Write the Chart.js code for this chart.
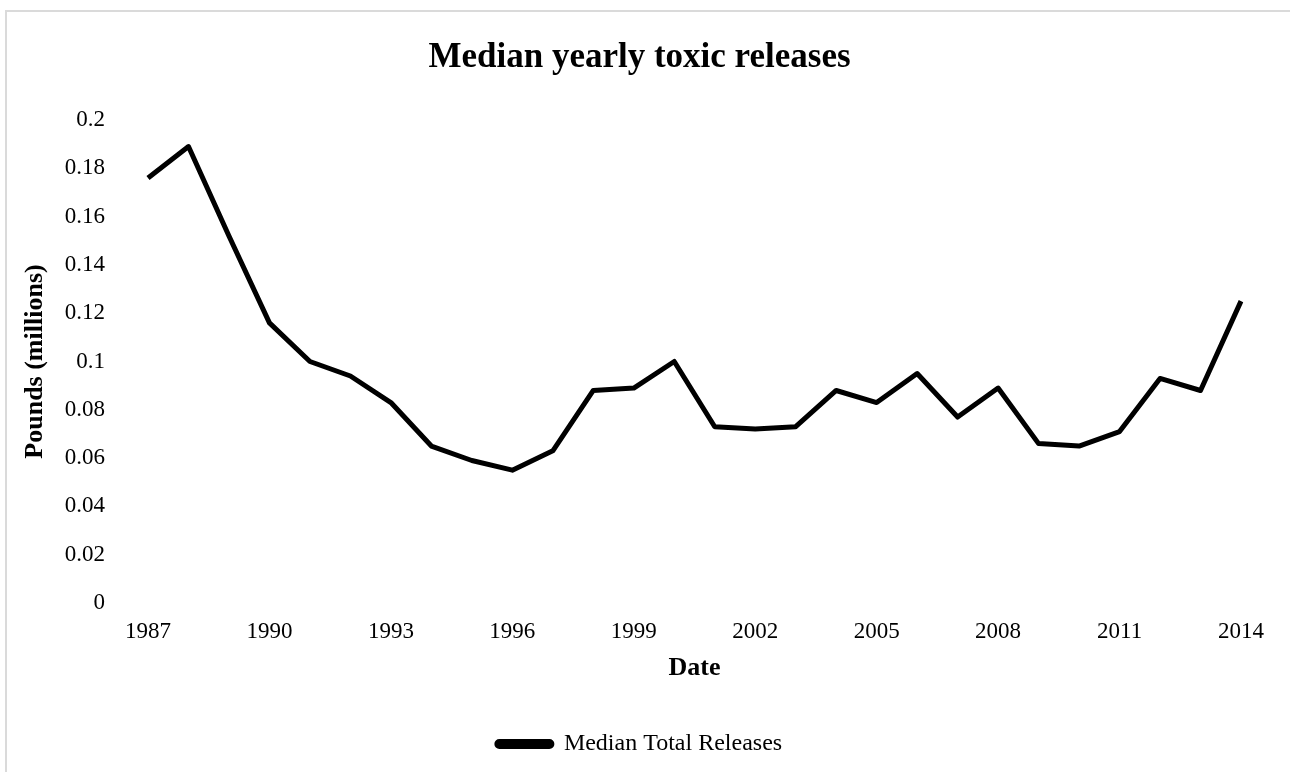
<!DOCTYPE html>
<html>
<head>
<meta charset="utf-8">
<script src="https://cdn.jsdelivr.net/npm/chart.js@4"></script>
<style>
    body { margin: 0; background: #fff; overflow: hidden; }
    #frame {
        position: absolute; left: 5px; top: 10px;
        width: 1320px; height: 800px;
        border: 2px solid #dadada;
    }
    #wrap { position: absolute; left: 0; top: 0; width: 1279px; height: 772px; }
</style>
</head>
<body>
<div id="frame"></div>
<div id="wrap"><canvas id="releasesChart"></canvas></div>
<script>
// TRI median releases per year, millions of pounds
const years = [1987, 1988, 1989, 1990, 1991, 1992, 1993, 1994, 1995, 1996,
    1997, 1998, 1999, 2000, 2001, 2002, 2003, 2004, 2005, 2006,
    2007, 2008, 2009, 2010, 2011, 2012, 2013, 2014];
const medianReleases = [0.176, 0.189, 0.152, 0.116, 0.100, 0.094, 0.083, 0.065, 0.059, 0.055,
    0.063, 0.088, 0.089, 0.100, 0.073, 0.072, 0.073, 0.088, 0.083, 0.095,
    0.077, 0.089, 0.066, 0.065, 0.071, 0.093, 0.088, 0.125];
const yTicks = [0, 0.02, 0.04, 0.06, 0.08, 0.1, 0.12, 0.14, 0.16, 0.18, 0.2];

const serif = 'Liberation Serif, Times New Roman, serif';

const ctx = document.getElementById('releasesChart').getContext('2d');
const releasesChart = new Chart(ctx, {
    type: 'line',
    data: {
        labels: years.map(String),
        datasets: [{
            label: 'Median Total Releases',
            data: medianReleases,
            borderColor: '#000',
            backgroundColor: '#000',
            borderWidth: 5,
            borderJoinStyle: 'round',
            pointRadius: 0,
            tension: 0,
            fill: false
        }]
    },
    options: {
        responsive: true,
        maintainAspectRatio: false,
        animation: false,
        layout: { padding: { left: 0, right: 0, top: 0, bottom: 6 } },
        plugins: {
            title: {
                display: true,
                text: 'Median yearly toxic releases',
                color: '#000',
                font: { family: serif, size: 35, weight: 'bold' },
                padding: { top: 37, bottom: 41 }
            },
            legend: {
                position: 'bottom',
                labels: {
                    color: '#000',
                    font: { family: serif, size: 24 },
                    boxWidth: 55,
                    boxHeight: 5,
                    useBorderRadius: true,
                    borderRadius: 2.5,
                    padding: 15
                }
            },
            tooltip: { enabled: false }
        },
        scales: {
            x: {
                grid: { display: false, drawTicks: false },
                border: { display: false },
                ticks: {
                    color: '#000',
                    font: { family: serif, size: 23 },
                    autoSkip: false,
                    maxRotation: 0,
                    minRotation: 0,
                    padding: 15,
                    callback: function (val, idx) {
                        return idx % 3 === 0 ? this.getLabelForValue(val) : '';
                    }
                },
                title: {
                    display: true,
                    text: 'Date',
                    color: '#000',
                    font: { family: serif, size: 26, weight: 'bold' },
                    padding: { top: 0, bottom: 33 }
                },
                afterFit: function (scale) { scale.height = 114; }
            },
            y: {
                min: 0,
                max: 0.2,
                grid: { display: false, drawTicks: false },
                border: { display: false },
                afterBuildTicks: function (scale) {
                    scale.ticks = yTicks.map(v => ({ value: v }));
                },
                ticks: {
                    color: '#000',
                    font: { family: serif, size: 23 },
                    padding: 43,
                    callback: v => String(+v.toFixed(2))
                },
                title: {
                    display: true,
                    text: 'Pounds (millions)',
                    color: '#000',
                    font: { family: serif, size: 26, weight: 'bold' },
                    padding: { top: 20, bottom: 0 }
                },
                afterFit: function (scale) { scale.width = 148; }
            }
        }
    }
});
</script>
</body>
</html>
